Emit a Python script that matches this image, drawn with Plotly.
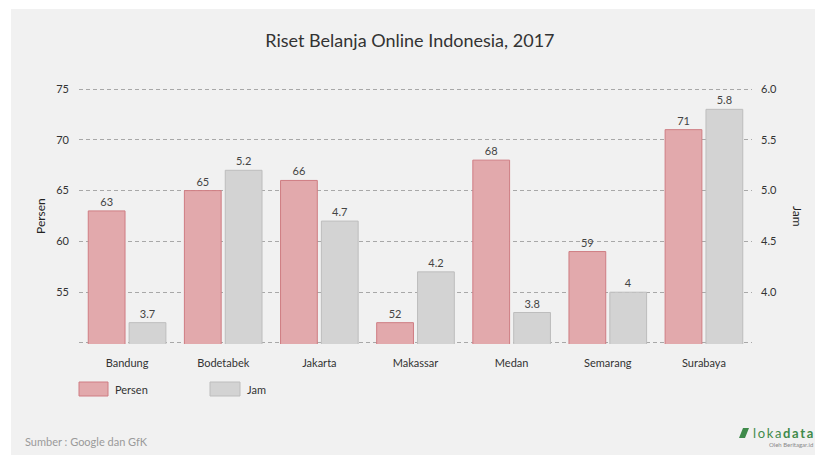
import plotly.graph_objects as go

categories = ["Bandung", "Bodetabek", "Jakarta", "Makassar", "Medan", "Semarang", "Surabaya"]
persen = [63, 65, 66, 52, 68, 59, 71]
jam = [3.7, 5.2, 4.7, 4.2, 3.8, 4, 5.8]
persen_text = [str(v) for v in persen]
jam_text = ["3.7", "5.2", "4.7", "4.2", "3.8", "4", "5.8"]
left_ticks = [50, 55, 60, 65, 70, 75]
left_ticktext = ["", "55", "60", "65", "70", "75"]
right_ticks = [3.5, 4.0, 4.5, 5.0, 5.5, 6.0]
right_ticktext = ["", "4.0", "4.5", "5.0", "5.5", "6.0"]

W, H = 815, 455
ML, MR, MT, MB = 79, 63, 88, 111
PW = W - ML - MR
PH = H - MT - MB

def X(px):
    return (px - ML) / PW

def Y(py):
    return (H - MB - py) / PH

FONT = "Lato"
RED = "#e2a9ac"
RED_LINE = "#cf7d83"
GRAY = "#d3d3d3"
GRAY_LINE = "#bdbdbd"

fig = go.Figure()
fig.add_trace(go.Bar(
    x=categories, y=persen, name="Persen", yaxis="y", offsetgroup="a",
    marker=dict(color=RED, line=dict(color=RED_LINE, width=1)),
    text=persen_text, textposition="outside", cliponaxis=False,
    textfont=dict(family=FONT, size=11, color="#444"),
    hoverinfo="x+y",
))
fig.add_trace(go.Bar(
    x=categories, y=jam, name="Jam", yaxis="y2", offsetgroup="b",
    marker=dict(color=GRAY, line=dict(color=GRAY_LINE, width=1)),
    text=jam_text, textposition="outside", cliponaxis=False,
    textfont=dict(family=FONT, size=11, color="#444"),
    hoverinfo="x+y",
))

shapes = [
    dict(type="rect", xref="paper", yref="paper", layer="below",
         x0=X(11), x1=X(830), y0=Y(470), y1=Y(9),
         fillcolor="#f1f1f1", line=dict(width=0)),
    # legend swatches
    dict(type="rect", xref="paper", yref="paper",
         x0=X(79), x1=X(108), y0=Y(396), y1=Y(382),
         fillcolor=RED, line=dict(color=RED_LINE, width=1)),
    dict(type="rect", xref="paper", yref="paper",
         x0=X(210), x1=X(240), y0=Y(396), y1=Y(382),
         fillcolor=GRAY, line=dict(color=GRAY_LINE, width=1)),
    # logo leaf
    dict(type="path", xref="paper", yref="paper",
         path=f"M {X(739)} {Y(438)} L {X(743)} {Y(428)} L {X(749)} {Y(428)} L {X(745)} {Y(438)} Z",
         fillcolor="#3f8a4a", line=dict(width=0)),
]

annotations = [
    dict(text="Persen", xref="paper", yref="paper", x=X(40), y=Y(216),
         textangle=-90, showarrow=False, xanchor="center", yanchor="middle",
         font=dict(family=FONT, size=12, color="#222")),
    dict(text="Jam", xref="paper", yref="paper", x=X(798), y=Y(216),
         textangle=90, showarrow=False, xanchor="center", yanchor="middle",
         font=dict(family=FONT, size=12, color="#222")),
    dict(text="Persen", xref="paper", yref="paper", x=X(113), y=Y(389),
         showarrow=False, xanchor="left", yanchor="middle",
         font=dict(family=FONT, size=11, color="#333")),
    dict(text="Jam", xref="paper", yref="paper", x=X(245), y=Y(389),
         showarrow=False, xanchor="left", yanchor="middle",
         font=dict(family=FONT, size=11, color="#333")),
    dict(text="Sumber : Google dan GfK", xref="paper", yref="paper", x=X(23), y=Y(441),
         showarrow=False, xanchor="left", yanchor="middle",
         font=dict(family=FONT, size=11, color="#9a9a9a")),
    dict(text="l\u2009o\u2009k\u2009a\u2009<b>d\u2009a\u2009t\u2009a</b>", xref="paper", yref="paper",
         x=X(751), y=Y(433), showarrow=False, xanchor="left", yanchor="middle",
         font=dict(family=FONT, size=13, color="#3f8a4a")),
    dict(text="Oleh Beritagar.id", xref="paper", yref="paper",
         x=X(767), y=Y(444), showarrow=False, xanchor="left", yanchor="middle",
         font=dict(family=FONT, size=6, color="#888")),
]

fig.update_layout(
    width=W, height=H,
    margin=dict(l=ML, r=MR, t=MT, b=MB, pad=0),
    paper_bgcolor="white", plot_bgcolor="rgba(0,0,0,0)",
    barmode="group", bargap=0.15, bargroupgap=0.1,
    showlegend=False,
    title=dict(text="Riset Belanja Online Indonesia, 2017", x=0.503, xanchor="center",
               y=1 - 41 / H, yanchor="middle", yref="container",
               font=dict(family=FONT, size=18, color="#333")),
    font=dict(family=FONT, size=11, color="#333"),
    xaxis=dict(showgrid=False, showline=False, ticks="", ticklabelstandoff=11,
               tickfont=dict(family=FONT, size=11, color="#333"), fixedrange=True),
    yaxis=dict(range=[49.9, 75.1], tickvals=left_ticks, ticktext=left_ticktext,
               showgrid=True, gridcolor="#a8a8a8", griddash="4px,3px", gridwidth=1,
               zeroline=False, showline=False, ticks="", ticklabelstandoff=9,
               tickfont=dict(family=FONT, size=11, color="#333")),
    yaxis2=dict(range=[3.49, 6.01], tickvals=right_ticks, ticktext=right_ticktext,
                overlaying="y", side="right", showgrid=False, zeroline=False,
                showline=False, ticks="", ticklabelstandoff=8,
                tickfont=dict(family=FONT, size=11, color="#333")),
    shapes=shapes,
    annotations=annotations,
)

fig.write_html("out.html")
